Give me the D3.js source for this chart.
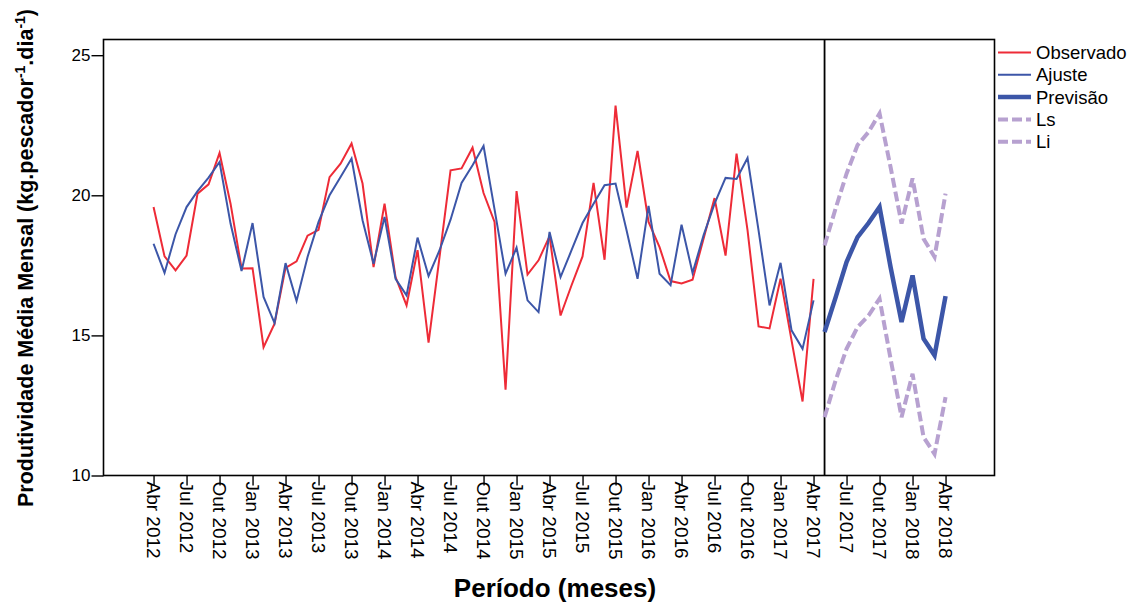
<!DOCTYPE html>
<html><head><meta charset="utf-8">
<script src="https://cdn.jsdelivr.net/npm/d3@7"></script>
<style>body{margin:0;background:#fff;} text{font-family:Arial,"Liberation Sans",sans-serif;}</style>
</head><body>
<svg id="c" width="1129" height="605"></svg>
<script>
// month index 0 = Abr 2012
const observado = [19.58,17.82,17.32,17.85,20.06,20.39,21.51,19.70,17.39,17.40,14.58,15.42,17.41,17.64,18.56,18.77,20.65,21.13,21.85,20.42,17.44,19.70,17.08,16.07,18.04,14.74,17.80,20.89,20.96,21.70,20.08,19.05,13.06,20.15,17.17,17.68,18.54,15.71,16.79,17.82,20.44,17.70,23.20,19.56,21.58,19.05,18.15,16.94,16.85,16.99,18.45,19.90,17.85,21.49,18.75,15.32,15.25,17.02,14.82,12.64,17.02];
const ajuste = [18.27,17.23,18.61,19.58,20.15,20.63,21.19,18.99,17.30,19.01,16.37,15.44,17.58,16.23,17.80,19.05,20.00,20.65,21.31,19.11,17.56,19.23,17.02,16.43,18.49,17.12,18.04,19.13,20.44,21.07,21.76,19.50,17.20,18.13,16.25,15.83,18.69,17.08,18.04,19.01,19.70,20.36,20.42,18.75,17.02,19.62,17.20,16.79,18.95,17.23,18.57,19.70,20.62,20.58,21.33,18.75,16.07,17.59,15.18,14.52,16.25];
const previsaoStart = 61; // Mai 2017
const previsao = [15.12,16.35,17.62,18.51,19.01,19.58,17.44,15.48,17.14,14.88,14.29,16.40];
const ls = [18.21,19.52,20.77,21.79,22.26,22.92,21.01,18.99,20.60,18.45,17.80,20.06];
const li = [12.08,13.39,14.52,15.30,15.71,16.31,14.17,12.08,13.63,11.37,10.77,12.80];
const tickLabels = ["Abr 2012","Jul 2012","Out 2012","Jan 2013","Abr 2013","Jul 2013","Out 2013","Jan 2014","Abr 2014","Jul 2014","Out 2014","Jan 2015","Abr 2015","Jul 2015","Out 2015","Jan 2016","Abr 2016","Jul 2016","Out 2016","Jan 2017","Abr 2017","Jul 2017","Out 2017","Jan 2018","Abr 2018"];
const yTicks = [10,15,20,25];
const legendItems = ["Observado","Ajuste","Previsão","Ls","Li"];

const svg = d3.select("#c");
const L = 103.5, R = 994.5, T = 39.5, B = 475.5;
const x = d3.scaleLinear().domain([-4.55, 76.45]).range([L, R]);
const y = d3.scaleLinear().domain([10, 25.56]).range([B, T]);

const red = "#ee2b37", blue = "#3c56a8", purple = "#b7a1d0";
const FF = "Arial, 'Liberation Sans', sans-serif";

// frame
svg.append("rect").attr("x",L).attr("y",T).attr("width",R-L).attr("height",B-T)
  .attr("fill","none").attr("stroke","#000").attr("stroke-width",1.6);

// y axis
const yAxis = svg.append("g").attr("transform",`translate(${L},0)`)
  .call(d3.axisLeft(y).tickValues(yTicks).tickSize(12).tickFormat(d3.format("d")));
yAxis.select(".domain").remove();
yAxis.selectAll("line").attr("stroke","#000").attr("stroke-width",1.4);
yAxis.selectAll("text").attr("font-size",17).attr("fill","#000").attr("x",-13).attr("font-family",FF);

// x axis
const tickIdx = tickLabels.map((d,i)=>i*3);
const xAxis = svg.append("g").attr("transform",`translate(0,${B})`)
  .call(d3.axisBottom(x).tickValues(tickIdx).tickSize(10).tickFormat((d,i)=>tickLabels[i]));
xAxis.select(".domain").remove();
xAxis.selectAll("line").attr("stroke","#000").attr("stroke-width",1.4);
xAxis.selectAll("text").attr("font-size",19).attr("fill","#000")
  .attr("font-family",FF)
  .attr("transform","rotate(90)").attr("text-anchor","start")
  .attr("x",6).attr("y",0).attr("dy","0.35em");

// vertical separator
svg.append("line").attr("x1",x(previsaoStart)).attr("x2",x(previsaoStart))
  .attr("y1",T).attr("y2",B).attr("stroke","#000").attr("stroke-width",1.8);

const line = d3.line().x(d=>x(d[0])).y(d=>y(d[1]));
const obsPts = observado.map((v,i)=>[i,v]);
const ajPts = ajuste.map((v,i)=>[i,v]);
const prPts = previsao.map((v,i)=>[i+previsaoStart,v]);
const lsPts = ls.map((v,i)=>[i+previsaoStart,v]);
const liPts = li.map((v,i)=>[i+previsaoStart,v]);

svg.append("path").datum(lsPts).attr("d",line).attr("fill","none").attr("stroke",purple).attr("stroke-width",4).attr("stroke-dasharray","10,4");
svg.append("path").datum(liPts).attr("d",line).attr("fill","none").attr("stroke",purple).attr("stroke-width",4).attr("stroke-dasharray","10,4");
svg.append("path").datum(obsPts).attr("d",line).attr("fill","none").attr("stroke",red).attr("stroke-width",2);
svg.append("path").datum(ajPts).attr("d",line).attr("fill","none").attr("stroke",blue).attr("stroke-width",2);
svg.append("path").datum(prPts).attr("d",line).attr("fill","none").attr("stroke",blue).attr("stroke-width",4.5);

// legend
const legStyles = [
  {c:red,w:2,dash:null},{c:blue,w:2,dash:null},{c:blue,w:4.5,dash:null},
  {c:purple,w:4,dash:"10,4"},{c:purple,w:4,dash:"10,4"}];
const lg = svg.append("g");
legendItems.forEach((name,i)=>{
  const yy = 52.5 + i*22.3;
  const s = legStyles[i];
  const ln = lg.append("line").attr("x1",998).attr("x2",1031).attr("y1",yy).attr("y2",yy)
    .attr("stroke",s.c).attr("stroke-width",s.w);
  if (s.dash) ln.attr("stroke-dasharray",s.dash);
  lg.append("text").attr("x",1036).attr("y",yy).attr("dy","0.36em").attr("font-size",18.5).attr("fill","#000").text(name);
});

// axis titles
svg.append("text").attr("x",555).attr("y",597).attr("text-anchor","middle")
  .attr("font-size",26).attr("font-weight","bold").attr("fill","#000").text("Período (meses)");

const yt = svg.append("text").attr("transform","translate(33,258) rotate(-90)")
  .attr("text-anchor","middle").attr("font-size",21.5).attr("font-weight","bold").attr("fill","#000");
yt.append("tspan").text("Produtividade Média Mensal (kg.pescador");
yt.append("tspan").attr("dy",-8).attr("font-size",14).text("-1");
yt.append("tspan").attr("dy",8).text(".dia");
yt.append("tspan").attr("dy",-8).attr("font-size",14).text("-1");
yt.append("tspan").attr("dy",8).text(")");
</script>
</body></html>
